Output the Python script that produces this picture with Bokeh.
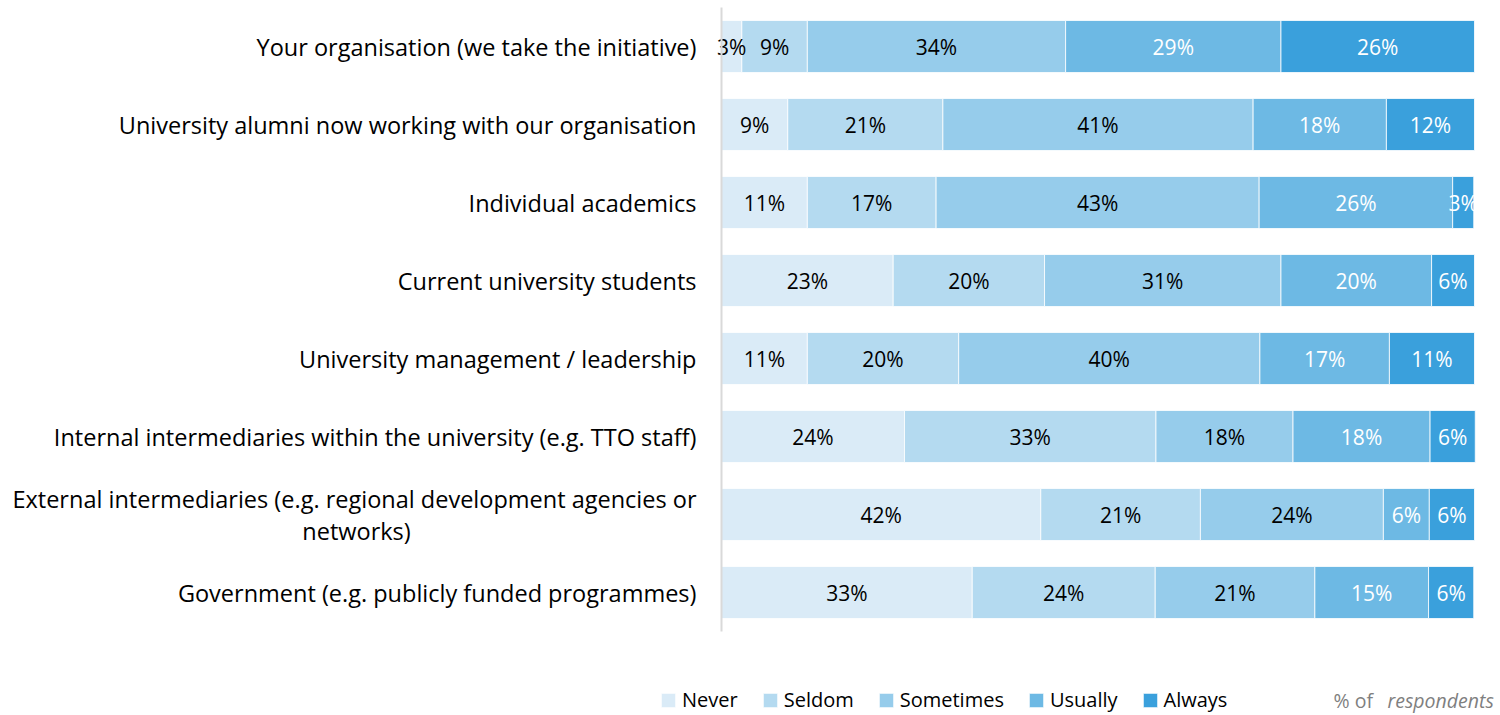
from bokeh.plotting import figure
from bokeh.models import ColumnDataSource, Range1d, Legend, LegendItem, Label, FixedTicker
from bokeh.core.properties import value
from bokeh.embed import file_html
from bokeh.resources import INLINE

categories = [
    "Your organisation (we take the initiative)",
    "University alumni now working with our organisation",
    "Individual academics",
    "Current university students",
    "University management / leadership",
    "Internal intermediaries within the university (e.g. TTO staff)",
    "External intermediaries (e.g. regional development agencies or\nnetworks)",
    "Government (e.g. publicly funded programmes)",
]
series = ["Never", "Seldom", "Sometimes", "Usually", "Always"]
never = [2.7, 8.8, 11.4, 22.8, 11.4, 24.3, 42.4, 33.3]
seldom = [8.7, 20.6, 17.1, 20.1, 20.1, 33.4, 21.2, 24.3]
sometimes = [34.3, 41.2, 42.9, 31.4, 40.0, 18.2, 24.3, 21.2]
usually = [28.6, 17.7, 25.7, 20.0, 17.2, 18.2, 6.1, 15.1]
always = [25.7, 11.7, 2.8, 5.7, 11.3, 6.0, 6.0, 6.0]
note_plain = "% of"
note_italic = "respondents"

colors = ["#DAEBF7", "#B4DAF0", "#96CCEB", "#6DB9E4", "#3AA0DC"]
text_colors = ["#000000", "#000000", "#000000", "#FFFFFF", "#FFFFFF"]
FONT = "Open Sans"

# layout (pixels)
W, H = 1500, 713
X0_PX, X100_PX = 721, 1474          # where 0% and 100% sit
ROW0_PX, ROW_STEP = 46, 78          # centre of first row, row pitch
LINE_STEP = 32                      # line pitch of a wrapped category label
WRAP_CENTER_PX = 356                # centre of a wrapped label's lines

n = len(categories)
ypos = [n - 1 - i for i in range(n)]  # first category on top

px_per_unit = (X100_PX - X0_PX) / 100.0
x_start = -X0_PX / px_per_unit
x_end = 100 + (W - X100_PX) / px_per_unit
y_top = (n - 1) + ROW0_PX / ROW_STEP
y_bottom = y_top - H / ROW_STEP

data = {"y": ypos, "Never": never, "Seldom": seldom, "Sometimes": sometimes,
        "Usually": usually, "Always": always}
source = ColumnDataSource(data)

p = figure(width=W, height=H, output_backend="svg", toolbar_location=None,
           x_range=Range1d(x_start, x_end), y_range=Range1d(y_bottom, y_top),
           min_border_left=0, min_border_right=0, min_border_top=0, min_border_bottom=0)
p.outline_line_color = None
p.grid.visible = False
p.xaxis.visible = False

renderers = p.hbar_stack(series, y="y", height=0.667, color=colors, source=source,
                         line_color="white", line_width=0.8)

# value labels
lx, ly, lt, lc = [], [], [], []
arrays = [never, seldom, sometimes, usually, always]
for i in range(n):
    left = 0.0
    for j, arr in enumerate(arrays):
        v = arr[i]
        lx.append(left + v / 2)
        ly.append(ypos[i])
        lt.append(f"{round(v)}%")
        lc.append(text_colors[j])
        left += v
lsrc = ColumnDataSource(dict(x=lx, y=ly, t=lt, c=lc))
p.text(x="x", y="y", text="t", text_color="c", source=lsrc, text_align="center",
       text_baseline="middle", text_font=value(FONT), text_font_size="21px")

# category labels on the axis; wrapped labels get their further lines centred below
tick_pos, overrides, extra = [], {}, []
half = (LINE_STEP / 2) / ROW_STEP
for yv, cat in zip(ypos, categories):
    lines = cat.split("\n")
    if len(lines) == 1:
        tick_pos.append(yv)
        overrides[yv] = cat
    else:
        t = yv + half * (len(lines) - 1)
        tick_pos.append(t)
        overrides[t] = lines[0]
        for k, ln in enumerate(lines[1:], start=1):
            extra.append((t - k * LINE_STEP / ROW_STEP, ln))

ax = p.yaxis[0]
ax.fixed_location = 0
ax.bounds = (-0.5, n - 0.5)
ax.ticker = FixedTicker(ticks=tick_pos)
ax.major_label_overrides = overrides
ax.axis_line_color = "#D9D9D9"
ax.axis_line_width = 2
ax.major_tick_line_color = None
ax.minor_tick_line_color = None
ax.major_tick_out = 0
ax.major_tick_in = 0
ax.major_label_standoff = 25
ax.major_label_text_font = FONT
ax.major_label_text_font_size = "23.5px"
ax.major_label_text_color = "#000000"

for yv, ln in extra:
    p.add_layout(Label(x=WRAP_CENTER_PX, y=yv, x_units="screen", y_units="data", text=ln,
                       text_font=FONT, text_font_size="23.5px", text_color="#000000",
                       text_align="center", text_baseline="middle"))

legend = Legend(items=[LegendItem(label=s, renderers=[r]) for s, r in zip(series, renderers)],
                orientation="horizontal", location=(659, 0),
                glyph_width=18, glyph_height=18, label_standoff=5, spacing=23,
                label_text_font=FONT, label_text_font_size="20px", label_text_color="#000000",
                padding=0, margin=0, border_line_color=None, background_fill_alpha=0)
p.add_layout(legend, "center")
p.add_layout(Label(x=1333, y=13, x_units="screen", y_units="screen", text=note_plain,
                   text_font=FONT, text_font_size="19.5px", text_color="#7F7F7F",
                   text_baseline="middle"))
p.add_layout(Label(x=1387, y=13, x_units="screen", y_units="screen", text=note_italic,
                   text_font=FONT, text_font_size="19.5px", text_font_style="italic",
                   text_color="#7F7F7F", text_baseline="middle"))

open("out.html", "w").write(file_html(p, INLINE))
